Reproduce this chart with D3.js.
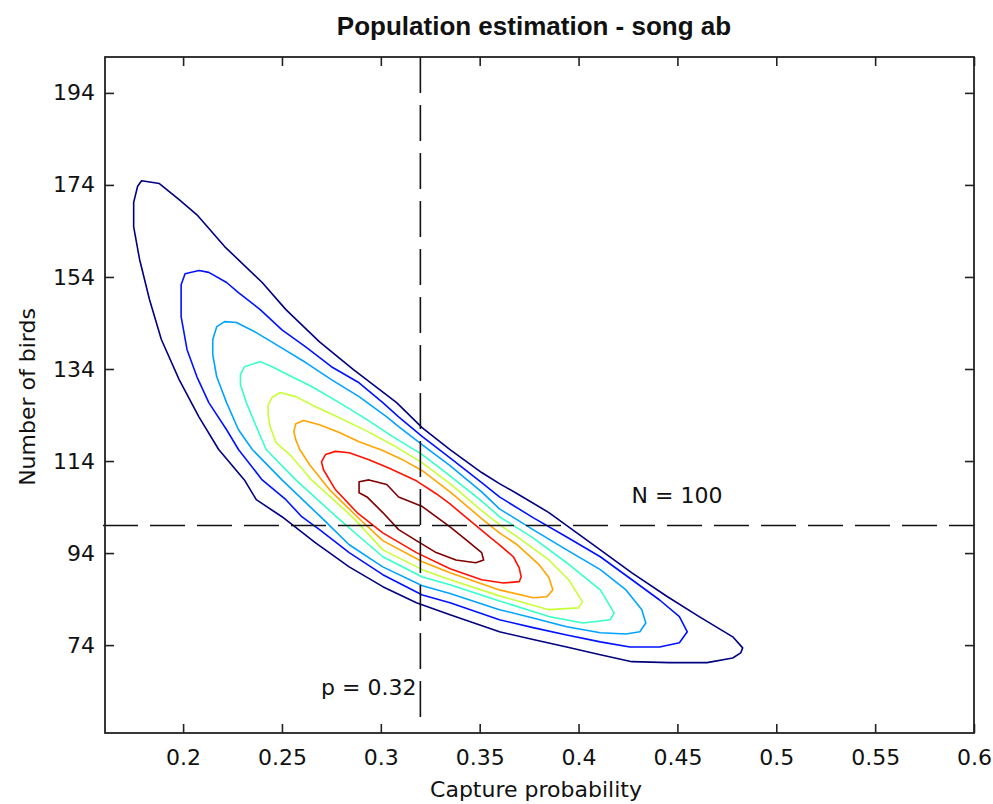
<!DOCTYPE html>
<html><head><meta charset="utf-8">
<script src="https://cdn.jsdelivr.net/npm/d3@7/dist/d3.min.js"></script>
<style>
body{margin:0;background:#fff}
svg{display:block}
</style>
</head><body>
<svg id="chart" width="993" height="804" font-family="DejaVu Sans, sans-serif"></svg>
<script>
// ---------- data ----------
const titleText = "Population estimation - song ab";
const xLabel = "Capture probability";
const yLabel = "Number of birds";
const xDomain = [0.1605, 0.6];
const yDomain = [54.9, 201.8];
const xTicks = [0.2, 0.25, 0.3, 0.35, 0.4, 0.45, 0.5, 0.55, 0.6];
const xTickLabels = ["0.2", "0.25", "0.3", "0.35", "0.4", "0.45", "0.5", "0.55", "0.6"];
const yTicks = [74, 94, 114, 134, 154, 174, 194];
const yTickLabels = ["74", "94", "114", "134", "154", "174", "194"];
const pHat = 0.32;
const nHat = 100;
const pLineBottom = 58.2;
const annotations = [
  {text: "N = 100", p: 0.4268, n: 104.9, anchor: "start"},
  {text: "p = 0.32", p: 0.318, n: 63.2, anchor: "end"}
];
const levelColors = ["#000080", "#0012ff", "#00a4ff", "#37ffc8", "#c8ff37", "#ffa400", "#ff1200", "#800000"];

// contour lines, [capture probability, number of birds], outermost first
const contour1 = [[0.179,174.9],[0.188,174.3],[0.198,170.8],[0.207,167.5],[0.221,160.6],[0.240,152.8],[0.252,146.9],[0.269,139.9],[0.286,133.9],[0.308,126.7],[0.321,121.2],[0.335,116.5],[0.351,111.5],[0.360,109.1],[0.369,106.9],[0.385,102.8],[0.411,94.7],[0.427,89.7],[0.445,84.5],[0.461,80.2],[0.478,75.8],[0.483,73.4],[0.482,72.3],[0.478,71.2],[0.465,70.2],[0.446,70.2],[0.427,70.4],[0.411,71.9],[0.394,73.6],[0.377,75.2],[0.360,76.9],[0.335,80.6],[0.318,83.2],[0.301,86.7],[0.284,91.0],[0.267,96.2],[0.250,101.9],[0.237,105.6],[0.231,109.9],[0.218,116.5],[0.208,123.6],[0.198,131.7],[0.189,140.4],[0.183,149.1],[0.178,157.8],[0.175,164.9],[0.175,170.2],[0.177,173.7]];
const contour2 = [[0.199,152.3],[0.201,154.7],[0.208,155.4],[0.213,155.0],[0.222,152.8],[0.228,150.6],[0.239,146.9],[0.250,142.5],[0.262,138.8],[0.275,134.5],[0.289,131.0],[0.301,126.7],[0.309,123.6],[0.321,119.3],[0.335,114.7],[0.351,109.3],[0.360,106.2],[0.377,101.7],[0.394,97.5],[0.411,93.2],[0.427,88.2],[0.441,83.8],[0.451,80.2],[0.455,76.9],[0.451,74.5],[0.441,73.6],[0.426,73.6],[0.411,74.7],[0.394,76.2],[0.377,77.8],[0.360,79.5],[0.335,83.2],[0.321,84.9],[0.301,89.3],[0.284,94.1],[0.269,99.1],[0.260,101.9],[0.252,105.6],[0.240,109.9],[0.228,116.5],[0.222,120.8],[0.213,126.7],[0.207,132.3],[0.202,138.2],[0.199,145.4]];
const contour3 = [[0.215,140.4],[0.217,143.2],[0.221,144.3],[0.227,144.1],[0.237,141.9],[0.249,138.8],[0.262,135.4],[0.275,131.7],[0.289,128.0],[0.303,123.6],[0.309,121.5],[0.321,117.5],[0.335,113.0],[0.351,107.3],[0.360,103.6],[0.377,99.1],[0.394,94.7],[0.411,90.4],[0.424,86.0],[0.432,81.7],[0.434,78.8],[0.431,76.9],[0.424,76.4],[0.411,76.7],[0.394,78.0],[0.377,79.9],[0.360,81.7],[0.335,85.2],[0.321,86.9],[0.301,91.0],[0.284,95.8],[0.270,101.7],[0.259,106.2],[0.250,109.9],[0.235,116.5],[0.228,120.8],[0.222,126.7],[0.217,132.3],[0.215,137.1]];
const contour4 = [[0.229,132.8],[0.231,134.5],[0.239,135.6],[0.245,134.5],[0.255,132.3],[0.265,130.2],[0.279,126.7],[0.293,123.0],[0.306,119.3],[0.321,115.4],[0.335,110.8],[0.351,105.3],[0.360,101.9],[0.377,97.3],[0.394,91.9],[0.411,86.0],[0.418,81.0],[0.416,79.5],[0.402,78.8],[0.385,80.2],[0.360,83.6],[0.335,87.1],[0.321,88.8],[0.301,93.2],[0.278,101.7],[0.257,109.9],[0.242,116.5],[0.237,121.5],[0.232,126.7],[0.229,130.6]];
const contour5 = [[0.243,126.2],[0.245,127.8],[0.249,128.9],[0.257,128.0],[0.267,125.8],[0.279,123.4],[0.293,120.5],[0.306,117.5],[0.321,113.6],[0.335,109.1],[0.351,103.2],[0.360,100.2],[0.369,97.5],[0.385,92.5],[0.395,88.2],[0.402,83.4],[0.400,82.1],[0.385,81.7],[0.360,84.7],[0.335,88.2],[0.321,90.4],[0.301,94.7],[0.286,101.7],[0.265,109.9],[0.254,115.4],[0.247,118.0],[0.244,121.5],[0.243,124.1]];
const contour6 = [[0.256,120.4],[0.257,122.1],[0.261,122.8],[0.269,121.9],[0.279,120.2],[0.289,118.2],[0.301,116.3],[0.311,114.3],[0.321,111.9],[0.335,107.3],[0.351,101.5],[0.360,98.4],[0.369,95.8],[0.380,91.5],[0.385,88.7],[0.387,86.0],[0.384,84.5],[0.377,84.3],[0.360,86.0],[0.335,89.7],[0.321,92.1],[0.301,96.7],[0.288,101.9],[0.274,107.8],[0.264,113.2],[0.259,116.5],[0.257,118.6]];
const contour7 = [[0.270,113.8],[0.272,115.4],[0.277,116.1],[0.284,115.8],[0.294,114.3],[0.304,112.5],[0.318,109.7],[0.328,106.9],[0.335,104.7],[0.341,102.5],[0.355,97.5],[0.360,95.8],[0.367,93.2],[0.370,90.8],[0.371,88.8],[0.370,87.8],[0.362,87.5],[0.351,88.2],[0.335,90.6],[0.318,94.1],[0.301,98.4],[0.288,102.8],[0.277,107.8],[0.271,112.1]];
const contour8 = [[0.289,109.5],[0.294,109.9],[0.303,108.9],[0.309,106.2],[0.321,104.1],[0.335,99.7],[0.343,96.9],[0.351,94.1],[0.352,92.5],[0.348,91.9],[0.338,92.5],[0.328,94.1],[0.318,96.7],[0.309,99.1],[0.301,102.8],[0.293,106.2],[0.289,107.1]];
const contours = [contour1, contour2, contour3, contour4, contour5, contour6, contour7, contour8];

// ---------- drawing ----------
const svg = d3.select("#chart");
const margin = {left: 105, top: 57, right: 19, bottom: 71};
const W = 993, H = 804;
const x = d3.scaleLinear().domain(xDomain).range([margin.left, W - margin.right]);
const y = d3.scaleLinear().domain(yDomain).range([H - margin.bottom, margin.top]);
const FONT = "DejaVu Sans, sans-serif";

svg.append("rect").attr("width", W).attr("height", H).attr("fill", "#fff");

const line = d3.line().x(d => x(d[0])).y(d => y(d[1])).curve(d3.curveLinearClosed);
svg.append("g").selectAll("path").data(contours).join("path")
  .attr("d", line)
  .attr("fill", "none")
  .attr("stroke", (d, i) => levelColors[i])
  .attr("stroke-width", 1.6)
  .attr("stroke-linejoin", "round");

// dashed reference lines
svg.append("line")
  .attr("x1", x(xDomain[0]) - 2).attr("x2", x(xDomain[1]))
  .attr("y1", y(nHat)).attr("y2", y(nHat))
  .attr("stroke", "#111").attr("stroke-width", 1.6)
  .attr("stroke-dasharray", "35,12");
svg.append("line")
  .attr("x1", x(pHat)).attr("x2", x(pHat))
  .attr("y1", y(yDomain[1])).attr("y2", y(pLineBottom))
  .attr("stroke", "#111").attr("stroke-width", 1.6)
  .attr("stroke-dasharray", "36,12");

svg.append("g").selectAll("text").data(annotations).join("text")
  .attr("x", d => x(d.p)).attr("y", d => y(d.n))
  .attr("text-anchor", d => d.anchor)
  .attr("font-family", FONT).attr("font-size", 22).attr("fill", "#111")
  .text(d => d.text);

// axes (box with inward ticks on all sides)
const tickLen = 9;
const axisColor = "#222";
const gB = svg.append("g").attr("transform", `translate(0,${H - margin.bottom})`)
  .call(d3.axisBottom(x).tickValues(xTicks).tickFormat((d, i) => xTickLabels[i]).tickSizeInner(-tickLen).tickSizeOuter(0).tickPadding(16));
const gT = svg.append("g").attr("transform", `translate(0,${margin.top})`)
  .call(d3.axisTop(x).tickValues(xTicks).tickFormat("").tickSizeInner(-tickLen).tickSizeOuter(0));
const gL = svg.append("g").attr("transform", `translate(${margin.left},0)`)
  .call(d3.axisLeft(y).tickValues(yTicks).tickFormat((d, i) => yTickLabels[i]).tickSizeInner(-tickLen).tickSizeOuter(0).tickPadding(10));
const gR = svg.append("g").attr("transform", `translate(${W - margin.right},0)`)
  .call(d3.axisRight(y).tickValues(yTicks).tickFormat("").tickSizeInner(-tickLen).tickSizeOuter(0));
[gB, gT, gL, gR].forEach(g => {
  g.select(".domain").remove();
  g.attr("font-family", FONT).attr("font-size", 22);
  g.selectAll(".tick line").attr("stroke", axisColor).attr("stroke-width", 1.6);
  g.selectAll("text").attr("fill", "#111");
});
svg.append("rect")
  .attr("x", margin.left).attr("y", margin.top)
  .attr("width", W - margin.left - margin.right).attr("height", H - margin.top - margin.bottom)
  .attr("fill", "none").attr("stroke", axisColor).attr("stroke-width", 1.8);

// titles
svg.append("text").attr("x", 534).attr("y", 35).attr("text-anchor", "middle")
  .attr("font-family", "Liberation Sans, Arial, sans-serif").attr("font-weight", "bold").attr("font-size", 26)
  .attr("fill", "#111")
  .text(titleText);
svg.append("text").attr("x", 536).attr("y", 797).attr("text-anchor", "middle")
  .attr("font-family", FONT).attr("font-size", 22).attr("fill", "#111").text(xLabel);
svg.append("text").attr("transform", "translate(35,397) rotate(-90)").attr("text-anchor", "middle")
  .attr("font-family", FONT).attr("font-size", 22).attr("fill", "#111").text(yLabel);
</script>
</body></html>
